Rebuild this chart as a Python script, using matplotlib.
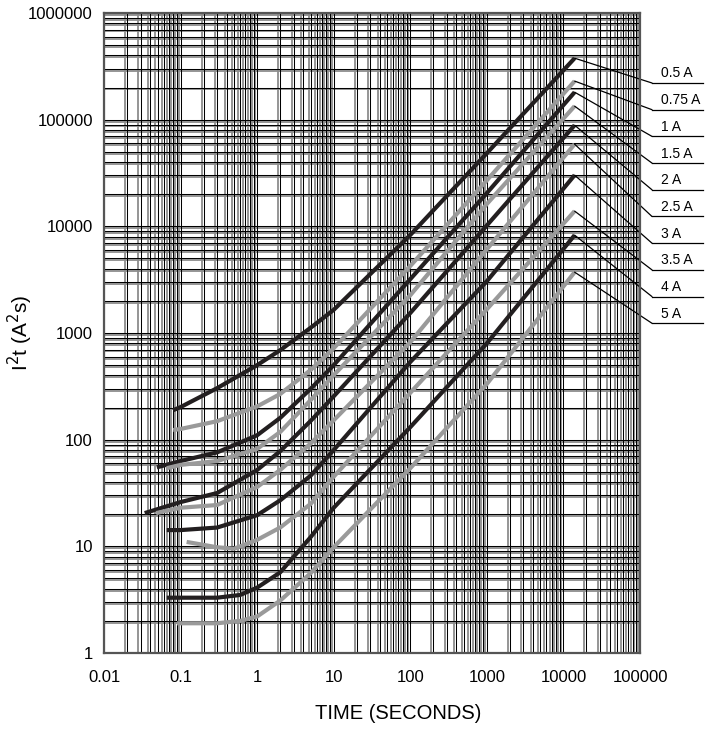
import numpy as np
import matplotlib.pyplot as plt

plt.rcParams['font.family'] = ['Liberation Sans', 'DejaVu Sans']

# fuse ratings, top to bottom
labels = ['0.5 A', '0.75 A', '1 A', '1.5 A', '2 A', '2.5 A', '3 A', '3.5 A', '4 A', '5 A']

# time (s) / I2t (A2s)
t_05 = [0.08, 0.1, 0.3, 1, 2, 5, 10, 100, 1000, 14000]
i_05 = [189, 202, 304, 500, 690, 1120, 1650, 8300, 48500, 377000]
t_075 = [0.08, 0.1, 0.3, 1, 2, 5, 10, 100, 1000, 14000]
i_075 = [123, 126, 149, 205, 268, 450, 720, 4250, 27000, 230000]
t_1 = [0.049, 0.1, 0.3, 1, 2, 5, 10, 100, 1000, 14000]
i_1 = [55, 63, 76, 110, 160, 300, 500, 3200, 20500, 181000]
t_15 = [0.066, 0.1, 0.3, 1, 2, 5, 10, 100, 1000, 14000]
i_15 = [54, 58, 63, 82, 118, 235, 403, 2260, 16200, 134000]
t_2 = [0.034, 0.1, 0.3, 1, 2, 5, 10, 100, 1000, 14000]
i_2 = [20.5, 26, 31.6, 52, 78, 150, 255, 1540, 10200, 88700]
t_25 = [0.048, 0.1, 0.3, 1, 2, 5, 10, 100, 1000, 14000]
i_25 = [20.5, 23, 24.4, 36, 52, 92, 152, 820, 6100, 58900]
t_3 = [0.066, 0.1, 0.3, 1, 2, 5, 10, 100, 1000, 14000]
i_3 = [14.2, 14.2, 15, 19.6, 27, 46, 80, 535, 3060, 30200]
t_35 = [0.12, 0.3, 0.5, 1, 2, 5, 10, 100, 1000, 14000]
i_35 = [11, 9.8, 9.5, 11.5, 15, 25, 45, 275, 1670, 13900]
t_4 = [0.066, 0.3, 0.6, 1, 2, 5, 10, 100, 1000, 14000]
i_4 = [3.3, 3.3, 3.5, 4.1, 5.7, 12.2, 23, 131, 800, 8270]
t_5 = [0.09, 0.3, 0.6, 1, 2, 5, 10, 100, 1000, 14000]
i_5 = [1.9, 1.9, 2.0, 2.2, 3.1, 5.6, 9.8, 54, 333, 3720]

curves = [(t_05, i_05), (t_075, i_075), (t_1, i_1), (t_15, i_15), (t_2, i_2),
          (t_25, i_25), (t_3, i_3), (t_35, i_35), (t_4, i_4), (t_5, i_5)]

W, H = 719, 733
fig = plt.figure(figsize=(W / 100, H / 100), dpi=100)
ax = fig.add_axes([104 / W, 1 - 653 / H, 536 / W, 640 / H])
ax.set_xscale('log')
ax.set_yscale('log')
ax.set_xlim(0.01, 100000)
ax.set_ylim(1, 1000000)

# two misregistered grids, gray and black
xg = [m * 10.0 ** k for k in range(-2, 5) for m in range(1, 10)] + [1e5]
yg = [m * 10.0 ** k for k in range(0, 6) for m in range(1, 10)] + [1e6]
for x in xg:
    ax.axvline(x * 0.94, color='#8c8c8c', lw=1.3, zorder=0.5)
    ax.axvline(x, color='black', lw=0.75, zorder=0.6)
for y in yg:
    ax.axhline(y * 0.96, color='#8c8c8c', lw=1.3, zorder=0.5)
    ax.axhline(y, color='black', lw=0.75, zorder=0.6)

for i, (t, v) in enumerate(curves):
    col = '#231f20' if i % 2 == 0 else '#9a9a9a'
    ax.plot(t, v, color=col, lw=3.0, zorder=3, solid_capstyle='butt',
            solid_joinstyle='round')

# leader lines and labels on the right
x0 = (652 - 104) / 536
x1 = (703 - 104) / 536
for i, (t, v) in enumerate(curves):
    yf = (653 - (83 + 26.7 * i)) / 640
    ax.annotate('', xy=(t[-1], v[-1]), xycoords='data', xytext=(x0, yf),
                textcoords='axes fraction',
                arrowprops=dict(arrowstyle='-', lw=0.9, color='black', shrinkA=0, shrinkB=0))
    ax.plot([x0, x1], [yf, yf], transform=ax.transAxes, color='black', lw=0.9, clip_on=False)
    ax.text((661 - 104) / 536, yf + 0.004, labels[i], transform=ax.transAxes,
            fontsize=10, ha='left', va='bottom')

ax.set_xticks([0.01, 0.1, 1, 10, 100, 1000, 10000, 100000])
ax.set_xticklabels(['0.01', '0.1', '1', '10', '100', '1000', '10000', '100000'])
ax.set_yticks([1, 10, 100, 1000, 10000, 100000, 1000000])
ax.set_yticklabels(['1', '10', '100', '1000', '10000', '100000', '1000000'])
ax.minorticks_off()
ax.tick_params(which='both', length=0, labelsize=12)
ax.tick_params(axis='x', pad=12)
ax.tick_params(axis='y', pad=8)

for s in ax.spines.values():
    s.set_color('#555555')
    s.set_linewidth(1.6)
    s.set_zorder(4)

ax.set_xlabel('TIME (SECONDS)', fontsize=14.5)
ax.xaxis.set_label_coords((398 - 104) / 536, -0.08)
ax.set_ylabel('I$^2$t (A$^2$s)', fontsize=15)
ax.yaxis.set_label_coords(-0.129, 0.5)

fig.savefig('out.png', dpi=100)
